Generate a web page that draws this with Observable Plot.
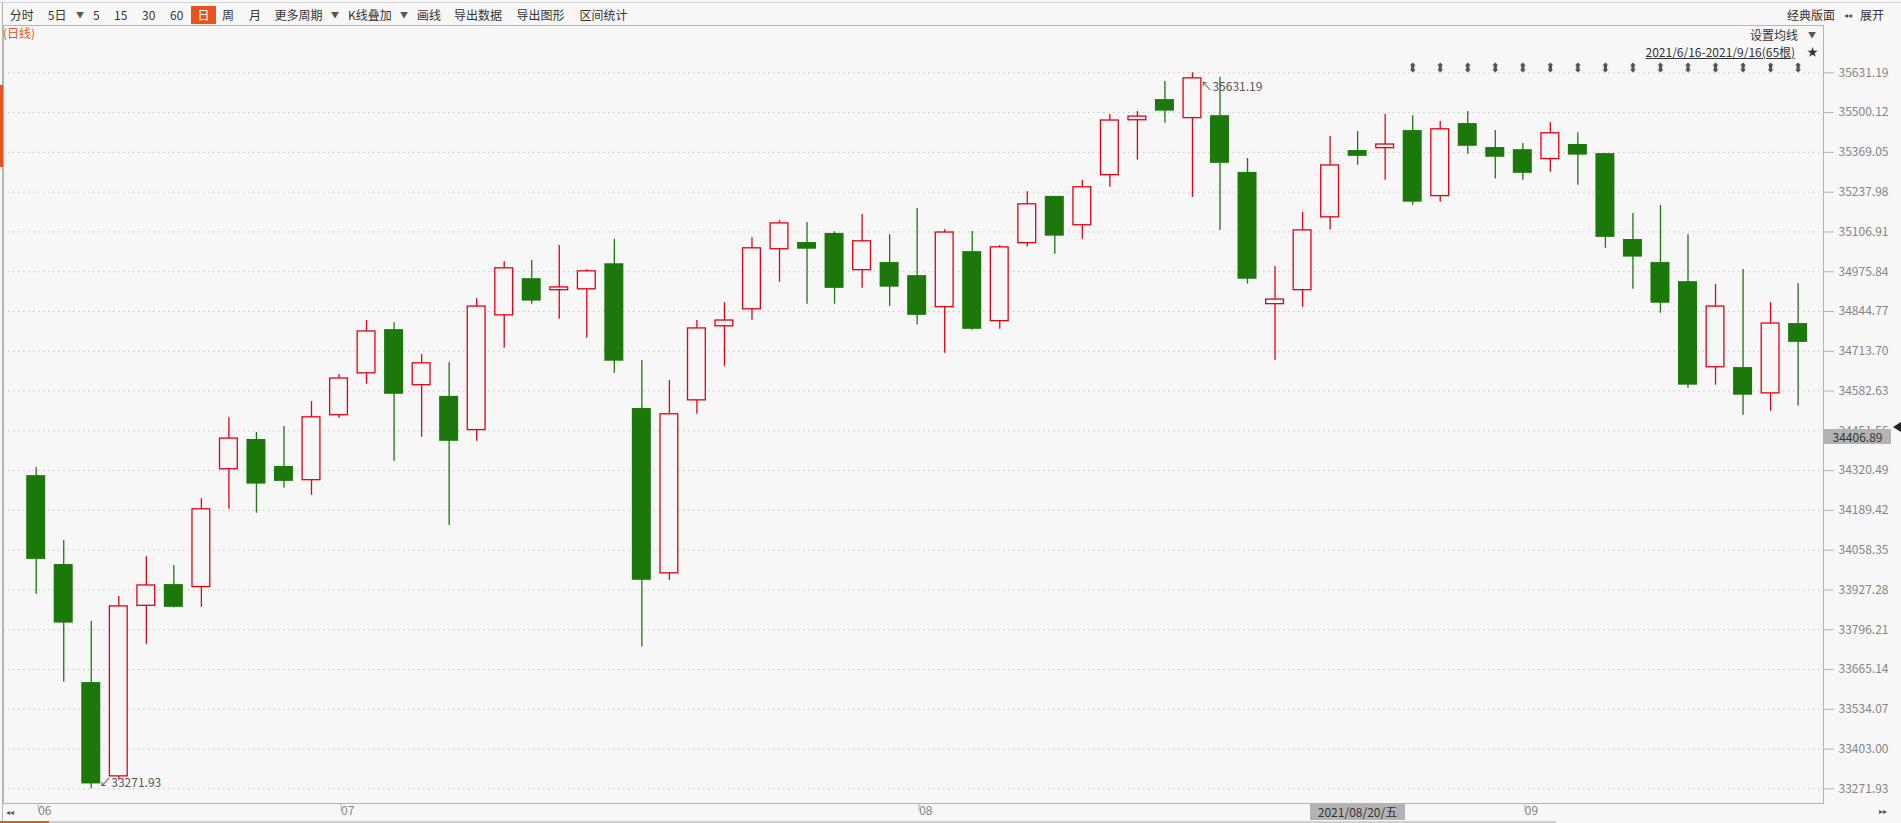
<!DOCTYPE html>
<html><head><meta charset="utf-8">
<script src="https://cdn.jsdelivr.net/npm/d3@7"></script>
<script src="https://cdn.jsdelivr.net/npm/@observablehq/plot@0.6"></script>
<style>
html,body{margin:0;padding:0;background:#f7f7f7;overflow:hidden;}
#wrap{position:relative;width:1901px;height:823px;font-family:"Microsoft YaHei","Noto Sans CJK SC",sans-serif;color:#333;}
#wrap svg{position:absolute;left:0;top:0;}
.t{position:absolute;font-size:12px;line-height:16px;white-space:nowrap;}
</style></head><body><div id="wrap"></div>
<script>
// ---- data ----
const dates = [
 "2021-06-16","2021-06-17","2021-06-18","2021-06-21","2021-06-22","2021-06-23","2021-06-24","2021-06-25","2021-06-28","2021-06-29","2021-06-30",
 "2021-07-01","2021-07-02","2021-07-06","2021-07-07","2021-07-08","2021-07-09","2021-07-12","2021-07-13","2021-07-14","2021-07-15","2021-07-16",
 "2021-07-19","2021-07-20","2021-07-21","2021-07-22","2021-07-23","2021-07-26","2021-07-27","2021-07-28","2021-07-29","2021-07-30",
 "2021-08-02","2021-08-03","2021-08-04","2021-08-05","2021-08-06","2021-08-09","2021-08-10","2021-08-11","2021-08-12","2021-08-13",
 "2021-08-16","2021-08-17","2021-08-18","2021-08-19","2021-08-20","2021-08-23","2021-08-24","2021-08-25","2021-08-26","2021-08-27",
 "2021-08-30","2021-08-31","2021-09-01","2021-09-02","2021-09-03","2021-09-07","2021-09-08","2021-09-09","2021-09-10",
 "2021-09-13","2021-09-14","2021-09-15","2021-09-16"];
const open  = [34304,34011,33622,33311,33873,33945,33935,34323,34423,34334,34287,34501,34639,34785,34600,34565,34452,34830,34953,34913,34916,35002,34525,33980,34550,34794,34850,35048,35072,35102,34979,35006,34963,34857,35042,34811,35068,35224,35127,35292,35473,35543,35480,35490,35303,34867,34913,35153,35375,35381,35441,35223,35464,35385,35378,35345,35395,35365,35082,35006,34943,34659,34660,34573,34805];
const high  = [34331,34090,33823,33906,34037,34008,34228,34495,34446,34466,34548,34637,34815,34808,34703,34677,34887,35009,35013,35062,34983,35082,34683,34617,34815,34874,35088,35144,35138,35107,35164,35098,35184,35114,35108,35062,35239,35224,35276,35494,35504,35603,35631.19,35617,35349,34993,35171,35421,35438,35494,35490,35471,35504,35441,35398,35467,35434,35365,35168,35194,35098,34934,34983,34874,34936];
const low   = [33913,33623,33271.93,33301,33748,33868,33870,34193,34180,34262,34239,34493,34605,34351,34430,34140,34417,34724,34869,34819,34757,34641,33739,33959,34506,34664,34816,34941,34869,34869,34921,34862,34800,34707,34783,34786,35057,35033,35083,35254,35343,35465,35221,35112,34935,34684,34859,35113,35327,35277,35195,35205,35363,35281,35277,35304,35261,35053,34918,34839,34592,34602,34503,34516,34533];
const close = [34028,33818,33288,33875,33944,33870,34195,34428,34276,34285,34498,34626,34781,34572,34676,34417,34863,34989,34879,34926,34979,34681,33959,34508,34791,34817,35055,35137,35050,34921,35078,34925,34832,35107,34786,35058,35200,35093,35256,35476,35489,35505,35615,35333,34951,34886,35114,35328,35356,35397,35205,35447,35389,35353,35300,35434,35360,35089,35024,34872,34602,34863,34569,34807,34743];
const priceTicks = [35631.19,35500.12,35369.05,35237.98,35106.91,34975.84,34844.77,34713.70,34582.63,34451.56,34320.49,34189.42,34058.35,33927.28,33796.21,33665.14,33534.07,33403.00,33271.93];
const monthTicks  = ["2021-06-16","2021-07-01","2021-08-02","2021-09-01"];
const monthLabels = ["06","07","08","09"];
const markerDates = ["2021-08-26","2021-08-27","2021-08-30","2021-08-31","2021-09-01","2021-09-02","2021-09-03","2021-09-07","2021-09-08","2021-09-09","2021-09-10","2021-09-13","2021-09-14","2021-09-15","2021-09-16"];
const highMark = {date: "2021-08-16", value: 35631.19};
const lowMark  = {date: "2021-06-18", value: 33271.93};

// ---- styles ----
const RED = "#e60012", GREEN = "#1c780b", BG = "#f7f7f7";
const FONT = '"Microsoft YaHei","Noto Sans CJK SC",sans-serif';

const candles = dates.map((d, i) => ({date: d, open: open[i], high: high[i], low: low[i], close: close[i]}));
const up = candles.filter(d => d.close >= d.open);
const down = candles.filter(d => d.close < d.open);

const dblArrow = {
  draw(ctx, size) {
    const r = Math.sqrt(size / Math.PI);
    const k = r / 5;
    ctx.moveTo(0, -5 * k);
    ctx.lineTo(3 * k, -2 * k);
    ctx.lineTo(1.6 * k, -2 * k);
    ctx.lineTo(1.6 * k, 2 * k);
    ctx.lineTo(3 * k, 2 * k);
    ctx.lineTo(0, 5 * k);
    ctx.lineTo(-3 * k, 2 * k);
    ctx.lineTo(-1.6 * k, 2 * k);
    ctx.lineTo(-1.6 * k, -2 * k);
    ctx.lineTo(-3 * k, -2 * k);
    ctx.closePath();
  }
};

const chart = Plot.plot({
  width: 1901, height: 823,
  marginTop: 25, marginRight: 78, marginBottom: 20, marginLeft: 3,
  style: {background: "none", fontFamily: FONT, fontSize: "12px", overflow: "visible"},
  x: {type: "band", domain: dates, range: [21.935, 1811.385], paddingInner: 0.31, paddingOuter: 0.155, axis: null},
  y: {domain: [33271.93, 35631.19], range: [788.33, 72.33], axis: null},
  marks: [
    Plot.ruleY(priceTicks, {stroke: "#c4c4c4", strokeDasharray: "1.5,3.5", strokeWidth: 1}),
    Plot.frame({stroke: "#b4b4b4"}),
    Plot.axisY(priceTicks, {anchor: "right", tickSize: 10, tickPadding: 5, tickFormat: d => d.toFixed(2),
      stroke: "#b4b4b4", fill: "#858585", fontSize: 12, label: null}),
    Plot.axisX(monthTicks, {anchor: "bottom", tickSize: 8, tickPadding: -5,
      tickFormat: d => monthLabels[monthTicks.indexOf(d)], textAnchor: "start", dx: 2,
      stroke: "#b4b4b4", fill: "#858585", fontSize: 12, label: null}),
    Plot.ruleX(down, {x: "date", y1: "low", y2: "high", stroke: GREEN, strokeWidth: 1.3}),
    Plot.ruleX(up, {x: "date", y1: "low", y2: "high", stroke: RED, strokeWidth: 1.3}),
    Plot.barY(down, {x: "date", y1: "open", y2: "close", fill: GREEN}),
    Plot.barY(up, {x: "date", y1: "open", y2: "close", fill: BG, stroke: RED, strokeWidth: 1.3, inset: 0.6}),
    Plot.dot(markerDates, {x: d => d, frameAnchor: "top", dy: 42, symbol: dblArrow, r: 5, fill: "#555", stroke: "none"}),
    Plot.text([highMark], {x: "date", y: "value", text: d => "↖" + d.value.toFixed(2), dx: 8, dy: 14, textAnchor: "start", fill: "#555", fontSize: 12}),
    Plot.text([lowMark], {x: "date", y: "value", text: d => "↙" + d.value.toFixed(2), dx: 8, dy: -6, textAnchor: "start", fill: "#555", fontSize: 12})
  ]
});

const wrap = document.getElementById("wrap");
wrap.appendChild(chart);

function add(text, x, y, css = {}) {
  const el = document.createElement("div");
  el.className = "t";
  el.textContent = text;
  el.style.left = x + "px";
  el.style.top = (y - 8) + "px";
  Object.assign(el.style, css);
  wrap.appendChild(el);
  return el;
}
function box(x, y, w, h, css) {
  const el = document.createElement("div");
  el.style.position = "absolute";
  el.style.left = x + "px"; el.style.top = y + "px";
  el.style.width = w + "px"; el.style.height = h + "px";
  Object.assign(el.style, css);
  wrap.appendChild(el);
  return el;
}

// frame lines of the window
box(0, 2, 1901, 1, {background: "#d4d4d4"});
box(2, 2, 1, 821, {background: "#b4b4b4"});
box(0, 85, 3, 82, {background: "#e8531d"});

// toolbar
const tri = {fontSize: "8px", color: "#555"};
const tb = [["分时", 9.8], ["5日", 47.8], ["5", 93], ["15", 114], ["30", 142], ["60", 170], ["周", 222], ["月", 249],
            ["更多周期", 274.5], ["K线叠加", 348], ["画线", 417], ["导出数据", 454], ["导出图形", 516.5], ["区间统计", 579.5]];
tb.forEach(([t, x]) => add(t, x, 15));
[76, 331, 400].forEach(x => add("▼", x, 15, tri));
const sel = box(191, 6, 25, 18, {background: "#e8531d", color: "#fff", fontSize: "12px", lineHeight: "18px", textAlign: "center"});
sel.textContent = "日";
add("(日线)", 3, 33, {color: "#e8531d"});
add("经典版面", 1787, 15);
add("◂◂", 1844, 15, {fontSize: "8px", color: "#555"});
add("展开", 1860, 15);
add("设置均线", 1750, 35);
add("▼", 1808, 35, tri);
add("2021/6/16-2021/9/16(65根)", 1645.5, 52, {textDecoration: "underline"});
add("★", 1807, 51, {fontSize: "11px", color: "#333"});

// bottom
add("◂◂", 6, 812, {fontSize: "8px", color: "#555"});
add("▸▸", 1879, 811, {fontSize: "8px", color: "#555"});
box(0, 821, 1556, 2, {background: "#d0d0d0"});
box(0, 821, 49, 2, {background: "#e8531d"});
const db = box(1310, 804, 95, 16, {background: "#b3b3b3", color: "#333", fontSize: "12px", lineHeight: "16px", textAlign: "center"});
db.textContent = "2021/08/20/五";
const pb = box(1824, 429, 67, 15, {background: "#b3b3b3", color: "#333", fontSize: "12px", lineHeight: "15px", textAlign: "center"});
pb.textContent = "34406.89";
box(1893, 422, 0, 0, {borderTop: "5px solid transparent", borderBottom: "5px solid transparent", borderRight: "8px solid #222"});
</script></body></html>
